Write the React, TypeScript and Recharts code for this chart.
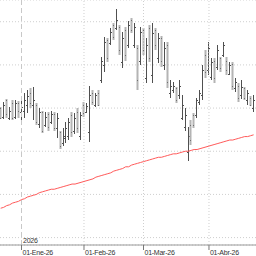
import React from 'react';
import { ComposedChart, Bar, Line, XAxis, YAxis, CartesianGrid, ReferenceLine } from 'recharts';

const dates = [
  '2025-12-19','2025-12-22','2025-12-23','2025-12-24','2025-12-29','2025-12-30','2025-12-31',
  '2026-01-02','2026-01-05','2026-01-06','2026-01-07','2026-01-08','2026-01-09','2026-01-12','2026-01-13','2026-01-14','2026-01-15','2026-01-16','2026-01-19','2026-01-20','2026-01-21','2026-01-22','2026-01-23','2026-01-26','2026-01-27','2026-01-28','2026-01-29','2026-01-30',
  '2026-02-02','2026-02-03','2026-02-04','2026-02-05','2026-02-06','2026-02-09','2026-02-10','2026-02-11','2026-02-12','2026-02-13','2026-02-16','2026-02-17','2026-02-18','2026-02-19','2026-02-20','2026-02-23','2026-02-24','2026-02-25','2026-02-26','2026-02-27',
  '2026-03-02','2026-03-03','2026-03-04','2026-03-05','2026-03-06','2026-03-09','2026-03-10','2026-03-11','2026-03-12','2026-03-13','2026-03-16','2026-03-17','2026-03-18','2026-03-19','2026-03-20','2026-03-23','2026-03-24','2026-03-25','2026-03-26','2026-03-27','2026-03-30','2026-03-31',
  '2026-04-01','2026-04-02','2026-04-07','2026-04-08','2026-04-09','2026-04-10','2026-04-13','2026-04-14','2026-04-15','2026-04-16','2026-04-17','2026-04-20','2026-04-21','2026-04-22','2026-04-23','2026-04-24',
];

const highs = [
  6.01,6.07,6.11,6.01,6.09,6.09,6.08,6.11,6.17,6.21,
  6.23,6.24,6.06,6.00,5.97,5.95,5.95,5.97,5.95,5.94,
  5.74,5.77,5.84,5.89,5.95,5.94,6.00,5.95,6.07,6.06,
  6.26,6.21,6.18,6.21,6.59,6.82,6.81,6.93,6.98,7.15,
  6.96,6.88,6.94,7.01,7.04,6.98,6.73,6.94,6.93,6.81,
  6.96,6.98,6.93,6.87,6.83,6.76,6.76,6.32,6.30,6.24,
  6.32,6.15,6.00,5.78,5.86,5.94,6.12,6.21,6.50,6.67,
  6.76,6.58,6.58,6.73,6.59,6.76,6.59,6.53,6.53,6.35,
  6.29,6.32,6.24,6.21,6.14,6.15,
];
const lows = [
  5.87,5.87,5.89,5.86,5.86,5.87,5.89,5.86,5.89,5.94,
  6.00,5.86,5.80,5.77,5.71,5.78,5.74,5.81,5.74,5.65,
  5.53,5.56,5.59,5.63,5.66,5.70,5.71,5.63,5.90,5.94,
  5.61,6.03,6.01,6.02,6.29,6.42,6.53,6.73,6.79,6.90,
  6.61,6.46,6.55,6.70,6.87,6.69,6.21,6.50,6.61,6.29,
  6.53,6.29,6.67,6.52,6.48,6.44,6.23,6.12,6.17,6.06,
  6.11,5.86,5.74,5.39,5.57,5.77,5.88,6.03,6.09,6.35,
  6.38,6.32,6.29,6.44,6.42,6.59,6.38,6.38,6.21,6.19,
  6.07,6.11,6.09,6.03,6.02,5.95,
];
const opens = [
  6.00,5.90,6.09,5.89,6.06,5.90,6.06,5.95,5.97,6.03,
  6.18,6.03,6.03,5.81,5.95,5.80,5.93,5.84,5.93,5.77,
  5.72,5.59,5.65,5.68,5.92,5.74,5.95,5.68,6.04,5.96,
  5.72,6.17,6.04,6.18,6.32,6.50,6.79,6.75,6.96,6.93,
  6.94,6.53,6.90,6.73,7.02,6.73,6.70,6.55,6.90,6.35,
  6.93,6.38,6.90,6.58,6.81,6.50,6.73,6.17,6.21,6.23,
  6.15,5.88,5.78,5.49,5.80,5.92,5.92,6.07,6.15,6.61,
  6.44,6.36,6.55,6.48,6.58,6.61,6.55,6.40,6.51,6.23,
  6.26,6.15,6.23,6.09,6.12,6.00,
];
const closes = [
  5.89,6.04,5.93,5.97,5.89,6.06,5.97,6.01,6.09,6.14,
  6.06,6.09,5.84,5.95,5.74,5.90,5.78,5.93,5.77,5.88,
  5.56,5.68,5.77,5.84,5.72,5.88,5.77,5.92,5.94,6.02,
  6.15,6.07,6.15,6.04,6.55,6.76,6.58,6.88,6.82,7.02,
  6.67,6.81,6.61,6.96,6.90,6.94,6.32,6.88,6.67,6.73,
  6.58,6.87,6.73,6.81,6.55,6.70,6.30,6.26,6.26,6.09,
  6.26,6.03,5.92,5.68,5.63,5.80,6.09,6.17,6.44,6.42,
  6.69,6.53,6.35,6.67,6.46,6.73,6.44,6.50,6.26,6.30,
  6.12,6.24,6.12,6.17,6.04,6.09,
];
const movingAvg = [
  4.84,4.85,4.87,4.88,4.90,4.91,4.92,4.94,4.95,4.97,
  4.98,4.99,5.00,5.02,5.03,5.04,5.05,5.06,5.06,5.07,
  5.08,5.09,5.10,5.11,5.12,5.12,5.13,5.14,5.15,5.16,
  5.17,5.18,5.20,5.21,5.22,5.23,5.24,5.25,5.27,5.28,
  5.29,5.30,5.32,5.32,5.34,5.35,5.36,5.37,5.38,5.39,
  5.40,5.41,5.42,5.43,5.43,5.44,5.45,5.46,5.47,5.47,
  5.48,5.49,5.50,5.50,5.51,5.52,5.52,5.53,5.54,5.55,
  5.56,5.57,5.58,5.59,5.60,5.61,5.62,5.63,5.63,5.64,
  5.65,5.66,5.67,5.67,5.68,5.69,
];

const monthNames = ['Ene','Feb','Mar','Abr','May','Jun','Jul','Ago','Sep','Oct','Nov','Dic'];
const gridPrices = [4.5, 5.0, 5.5, 6.0, 6.5, 7.0];

const data = dates.map((d, i) => ({
  i,
  date: d,
  o: opens[i],
  h: highs[i],
  l: lows[i],
  c: closes[i],
  range: [lows[i], highs[i]],
  ma: movingAvg[i],
}));

const monthStartIdx: number[] = [];
const yearStartIdx: number[] = [];
dates.forEach((d, i) => {
  if (i === 0) return;
  if (d.slice(0, 7) !== dates[i - 1].slice(0, 7)) monthStartIdx.push(i);
  if (d.slice(0, 4) !== dates[i - 1].slice(0, 4)) yearStartIdx.push(i);
});

const fmtTick = (v: number) => {
  const d = dates[v];
  if (!d) return '';
  const m = parseInt(d.slice(5, 7), 10) - 1;
  return `01-${monthNames[m]}-${d.slice(2, 4)}`;
};

const FONT = '"Liberation Sans", Arial, sans-serif';

const XTick = (props: any) => {
  const { x, y, payload } = props;
  return (
    <text x={x + 1} y={y} dy={2.5} fontSize={7} fill="#333" fontFamily={FONT} textAnchor="start" letterSpacing={-0.25}>
      {fmtTick(payload.value)}
    </text>
  );
};

const OhlcShape = (props: any) => {
  const { x, y, width, height, payload } = props;
  if (x == null || y == null || !payload) return null;
  const top = Math.min(y, y + height);
  const bot = Math.max(y, y + height);
  const { o, h, l, c } = payload;
  const toY = (v: number) => top + ((h - v) / (h - l)) * (bot - top);
  const cx = Math.floor(x + width / 2);
  const up = c >= o;
  const t = Math.round(top);
  const b = Math.round(bot);
  const oy = Math.round(toY(o));
  const cy = Math.round(toY(c));
  if (up) {
    return (
      <g>
        <rect x={cx} y={t} width={1} height={Math.max(1, b - t)} fill="#505050" />
        <rect x={cx - 1} y={oy} width={1} height={1} fill="#505050" />
        <rect x={cx + 1} y={cy} width={1} height={1} fill="#505050" />
      </g>
    );
  }
  return (
    <g>
      <rect x={cx - 0.5} y={t} width={2} height={Math.max(1, b - t)} fill="#b4b4b4" />
      <rect x={cx} y={oy} width={1} height={1} fill="#707070" />
      <rect x={cx} y={cy} width={1} height={1} fill="#707070" />
    </g>
  );
};

const YearLabel = (props: any) => {
  const vb = props.viewBox || {};
  return (
    <text x={(vb.x || 0) + 1.5} y={(vb.y || 0) + (vb.height || 0) - 2.5} fontSize={7} fill="#333" fontFamily={FONT} letterSpacing={-0.25}>
      {dates[yearStartIdx[0]].slice(0, 4)}
    </text>
  );
};

export default function App() {
  return (
    <div style={{ position: 'absolute', left: 0, top: 0, width: 256, height: 256, background: '#fff' }}>
      <ComposedChart width={256} height={256} data={data} margin={{ top: 0, right: 0, bottom: 0, left: 0 }}>
        <CartesianGrid vertical={false} stroke="#cfcfcf" strokeDasharray="1 2" />
        <XAxis
          type="number"
          dataKey="i"
          domain={[-0.225, 85.8]}
          allowDataOverflow
          ticks={monthStartIdx}
          interval={0}
          tick={<XTick />}
          tickSize={5}
          tickMargin={2}
          height={11}
          axisLine={{ stroke: '#9a9a9a' }}
          tickLine={{ stroke: '#777' }}
        />
        <YAxis hide type="number" domain={[4.4142, 7.2516]} allowDataOverflow ticks={gridPrices} />
        {monthStartIdx.filter((m) => !yearStartIdx.includes(m)).map((m) => (
          <ReferenceLine key={m} x={m} stroke="#cfcfcf" strokeDasharray="1 2" />
        ))}
        {yearStartIdx.map((m) => (
          <ReferenceLine key={'y' + m} x={m} stroke="#c8c8c8" strokeDasharray="5 3" label={<YearLabel />} />
        ))}
        <Line type="linear" dataKey="ma" stroke="#ff5a5a" strokeWidth={1} dot={false} activeDot={false} isAnimationActive={false} />
        <Bar dataKey="range" barSize={3} shape={<OhlcShape />} activeBar={false} isAnimationActive={false} />
      </ComposedChart>
    </div>
  );
}
